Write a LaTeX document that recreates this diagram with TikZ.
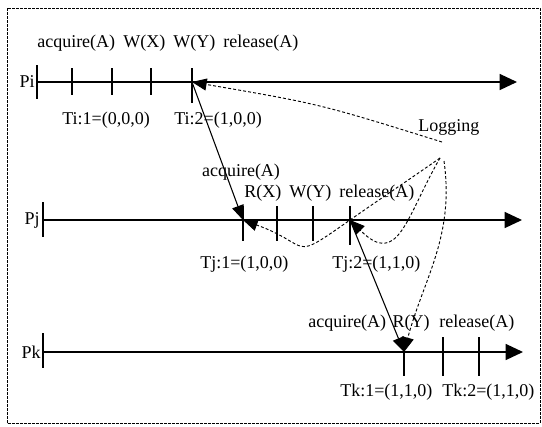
\documentclass[tikz,border=0pt]{standalone}
\usepackage{fontspec}
\setmainfont{Liberation Serif}
\usetikzlibrary{arrows.meta}

\tikzset{
  tline/.style={line width=1pt, -{Triangle[length=13pt,width=12pt]}},
  tickmark/.style={line width=0.9pt},
  msg/.style={line width=0.8pt, -{Triangle[length=11pt,width=9pt]}},
  logmsg/.style={line width=0.7pt, dash pattern=on 2.2pt off 1.6pt, -{Triangle[length=11pt,width=9pt]}},
  lbl/.style={font=\fontsize{13.5}{15}\selectfont, inner sep=0pt},
}

\begin{document}
\begin{tikzpicture}[x=0.75pt,y=0.75pt]
  \useasboundingbox (0,0) rectangle (542,426);
  \draw[line width=0.6pt, dash pattern=on 2pt off 1pt] (7,3) rectangle (540,418);

  % event points
  \coordinate (i2) at (192,344);
  \coordinate (j1) at (243,206);
  \coordinate (j4) at (350,206);
  \coordinate (k1) at (404,74);
  % where the logging messages leave
  \coordinate (lgA) at (442,284);
  \coordinate (lgB) at (440,268);
  \coordinate (lgC) at (444,265);

  % process Pi
  \node[lbl, anchor=east] (pi) at (35,344) {Pi};
  \draw[tickmark] (37,361) -- (37,327);
  \draw[tline] (37,344) -- (517,344);
  \foreach \x in {72,112,151}
    \draw[tickmark] (\x,358) -- (\x,331);
  \draw[tickmark] (192,358) -- (192,323);
  \node[lbl, anchor=west] (opsi) at (37,383)
    {acquire(A)\hspace{0.45em}W(X)\hspace{0.45em}W(Y)\hspace{0.45em}release(A)};
  \node[lbl, anchor=west] (ti1) at (62,306) {Ti:1=(0,0,0)};
  \node[lbl, anchor=west] (ti2) at (174,306) {Ti:2=(1,0,0)};

  % process Pj
  \node[lbl, anchor=east] (pj) at (40,206) {Pj};
  \draw[tickmark] (43,224) -- (43,189);
  \draw[tline] (43,206) -- (522,206);
  \foreach \x in {243,277,313}
    \draw[tickmark] (\x,220) -- (\x,185);
  \draw[tickmark] (350,220) -- (350,181);
  \node[lbl] (acqj) at (241,254) {acquire(A)};
  \node[lbl, anchor=west] (opsj) at (244,233)
    {R(X)\hspace{0.45em}W(Y)\hspace{0.45em}release(A)};
  \node[lbl, anchor=west] (tj1) at (200,162) {Tj:1=(1,0,0)};
  \node[lbl, anchor=west] (tj2) at (332,162) {Tj:2=(1,1,0)};

  % process Pk
  \node[lbl, anchor=east] (pk) at (41,74) {Pk};
  \draw[tickmark] (43,93) -- (43,58);
  \draw[tline] (43,74) -- (523,74);
  \foreach \x in {404,443,479}
    \draw[tickmark] (\x,89) -- (\x,50);
  \node[lbl, anchor=west] (opsk) at (308,103)
    {acquire(A)\hspace{0.35em}R(Y)\hspace{0.55em}release(A)};
  \node[lbl, anchor=west] (tk1) at (340,34) {Tk:1=(1,1,0)};
  \node[lbl, anchor=west] (tk2) at (442,34) {Tk:2=(1,1,0)};

  \node[lbl, anchor=west] (log) at (418,299) {Logging};

  % messages
  \draw[msg] (i2) -- (j1);
  \draw[msg] (j4) -- (k1);

  % logging
  \draw[logmsg] (lgA) .. controls (320,322) .. (i2);
  \draw[logmsg] (lgB) to[out=215,in=35] (j4) to[out=215,in=-20,looseness=1.8] (j1);
  \draw[logmsg] (lgB) to[out=-120,in=-45,looseness=1.6] (j4);
  \draw[logmsg] (lgC) to[out=-82,in=75] (k1);
\end{tikzpicture}
\end{document}
